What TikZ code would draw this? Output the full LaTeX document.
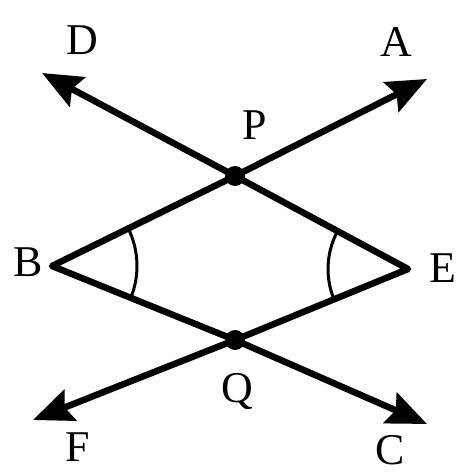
\documentclass[tikz,border=0pt]{standalone}
\usepackage{fontspec}
\setmainfont{Liberation Serif}
\usepackage{tikz}
\usetikzlibrary{arrows.meta,angles,calc}

\begin{document}
\begin{tikzpicture}[x=0.02cm,y=0.02cm,
    ray/.style={line width=0.13cm, -{Stealth[length=0.8cm,width=0.66cm,inset=0.12cm]}},
    seg/.style={line width=0.13cm, line join=round},
    anglemark/.style={draw, line width=0.06cm, angle radius=1.7cm},
    lbl/.style={font=\fontsize{25}{29}\selectfont, inner sep=0pt}]
\useasboundingbox (0,0) rectangle (474,476);

\coordinate (P) at (235,300);
\coordinate (Q) at (235,136);
\coordinate (B) at (52,210);
\coordinate (E) at (408,207);
\coordinate (A) at (427,397);
\coordinate (D) at (42,403);
\coordinate (F) at (33,56);
\coordinate (C) at (427,52);

% the four rays
\draw[seg] (P) -- (B) -- (Q);
\draw[seg] (P) -- (E) -- (Q);
\draw[ray] (P) -- (A);
\draw[ray] (P) -- (D);
\draw[ray] (Q) -- (F);
\draw[ray] (Q) -- (C);

% angles at B and E
\pic[anglemark] {angle=Q--B--P};
\pic[anglemark, angle radius=1.6cm] {angle=P--E--Q};

\fill (P) circle (0.2cm);
\fill (Q) circle (0.2cm);

\node[lbl] (labD) at (82,436) {D};
\node[lbl] (labA) at (396,434) {A};
\node[lbl] (labP) at (255,351) {P};
\node[lbl] (labB) at (28,214) {B};
\node[lbl] (labE) at (443,208) {E};
\node[lbl] (labQ) at (237,84) {Q};
\node[lbl] (labF) at (78,29) {F};
\node[lbl] (labC) at (390,26) {C};

\end{tikzpicture}
\end{document}
